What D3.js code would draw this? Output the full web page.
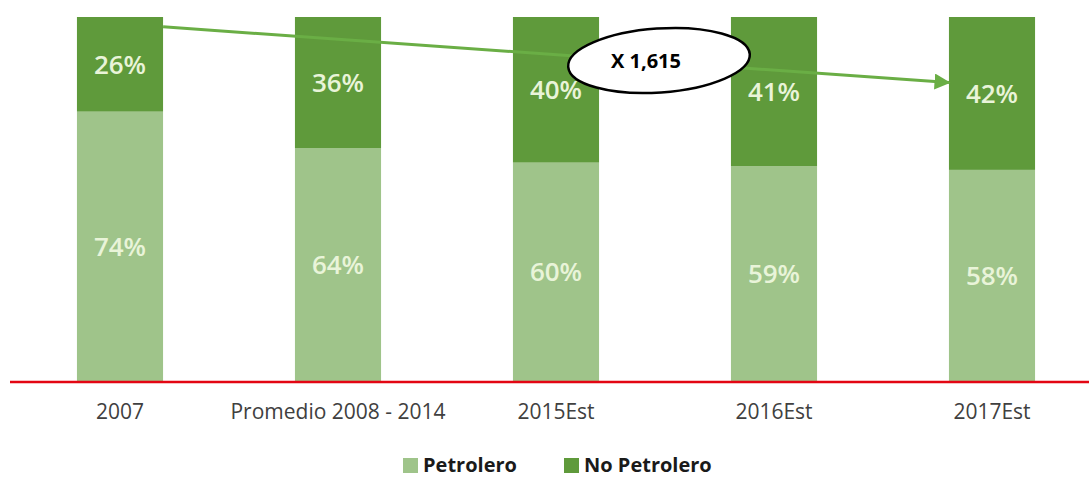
<!DOCTYPE html>
<html>
<head>
<meta charset="utf-8">
<script src="https://cdn.jsdelivr.net/npm/d3@7"></script>
<style>
  html, body { margin: 0; padding: 0; background: #fff; }
  svg { display: block; }
</style>
</head>
<body>
<svg id="chart" width="1089" height="478"></svg>
<script>
const categories = ["2007", "Promedio 2008 - 2014", "2015Est", "2016Est", "2017Est"];
const petrolero = [74, 64, 60, 59, 58];
const noPetrolero = [26, 36, 40, 41, 42];
const seriesNames = ["Petrolero", "No Petrolero"];
const seriesColors = ["#9fc48a", "#5f9a3b"];
const annotationText = "X 1,615";

const svg = d3.select("#chart");
const W = 1089, H = 478;

const x = d3.scaleBand().domain(categories).range([11, 1101])
  .paddingInner(0.605).paddingOuter(0.3025);
const y = d3.scaleLinear().domain([0, 100]).range([381, 17]);

const rows = categories.map((c, i) => ({ cat: c, Petrolero: petrolero[i], "No Petrolero": noPetrolero[i] }));
const stack = d3.stack().keys(seriesNames)(rows);

const g = svg.append("g");
stack.forEach((layer, li) => {
  g.selectAll(null).data(layer).enter().append("rect")
    .attr("x", d => x(d.data.cat))
    .attr("width", x.bandwidth())
    .attr("y", d => y(d[1]))
    .attr("height", d => y(d[0]) - y(d[1]))
    .attr("fill", seriesColors[li]);
  g.selectAll(null).data(layer).enter().append("text")
    .attr("x", d => x(d.data.cat) + x.bandwidth() / 2)
    .attr("y", d => (y(d[0]) + y(d[1])) / 2)
    .attr("dy", "0.36em")
    .attr("text-anchor", "middle")
    .attr("font-family", "'Open Sans', sans-serif")
    .attr("font-size", 26)
    .attr("font-weight", 600)
    .attr("fill", "#e9f4d9")
    .text(d => (d[1] - d[0]) + "%");
});

// baseline (red)
svg.append("line")
  .attr("x1", 10).attr("x2", W)
  .attr("y1", y(0) + 1).attr("y2", y(0) + 1)
  .attr("stroke", "#e30613").attr("stroke-width", 2.5);

// x axis labels
const xAxis = d3.axisBottom(x).tickSize(0).tickPadding(0);
const ax = svg.append("g").attr("transform", `translate(0,${y(0)})`).call(xAxis);
ax.select(".domain").remove();
ax.selectAll("text")
  .attr("y", 0)
  .attr("dy", "38")
  .attr("font-family", "'Open Sans', sans-serif")
  .attr("font-size", 21)
  .attr("fill", "#404040");

// arrow annotation
const defs = svg.append("defs");
defs.append("marker")
  .attr("id", "arrowhead")
  .attr("viewBox", "0 0 10 10")
  .attr("refX", 9).attr("refY", 5)
  .attr("markerUnits", "userSpaceOnUse")
  .attr("markerWidth", 16).attr("markerHeight", 16)
  .attr("orient", "auto")
  .append("path").attr("d", "M0,0 L10,5 L0,10 Z").attr("fill", "#6aae45");

const ax0 = x(categories[0]) + x.bandwidth();
const ax1 = x(categories[4]);
svg.append("line")
  .attr("x1", ax0).attr("y1", y(97.3))
  .attr("x2", ax1).attr("y2", y(82))
  .attr("stroke", "#6aae45").attr("stroke-width", 3)
  .attr("marker-end", "url(#arrowhead)");

// ellipse label
const ex = (x(categories[2]) + x.bandwidth() + x(categories[3])) / 2 - 6;
const ey = 60.5;
svg.append("ellipse")
  .attr("cx", ex).attr("cy", ey)
  .attr("rx", 91).attr("ry", 32)
  .attr("transform", `rotate(-4,${ex},${ey})`)
  .attr("fill", "#fff").attr("stroke", "#000").attr("stroke-width", 2.5);
svg.append("text")
  .attr("x", ex - 13).attr("y", ey)
  .attr("dy", "0.36em")
  .attr("text-anchor", "middle")
  .attr("font-family", "'Open Sans', sans-serif")
  .attr("font-weight", 700)
  .attr("font-size", 20)
  .attr("fill", "#000")
  .text(annotationText);

// legend
const legend = svg.append("g").attr("transform", "translate(403,457)");
const legendX = [0, 161];
seriesNames.forEach((n, i) => {
  const lg = legend.append("g").attr("transform", `translate(${legendX[i]},0)`);
  lg.append("rect").attr("y", 1).attr("width", 15).attr("height", 15).attr("fill", seriesColors[i]);
  lg.append("text").attr("x", 20).attr("y", 8).attr("dy", "0.36em")
    .attr("font-family", "'Open Sans', sans-serif")
    .attr("font-weight", 700).attr("font-size", 20)
    .attr("fill", "#1a1a1a").text(n);
});
</script>
</body>
</html>
